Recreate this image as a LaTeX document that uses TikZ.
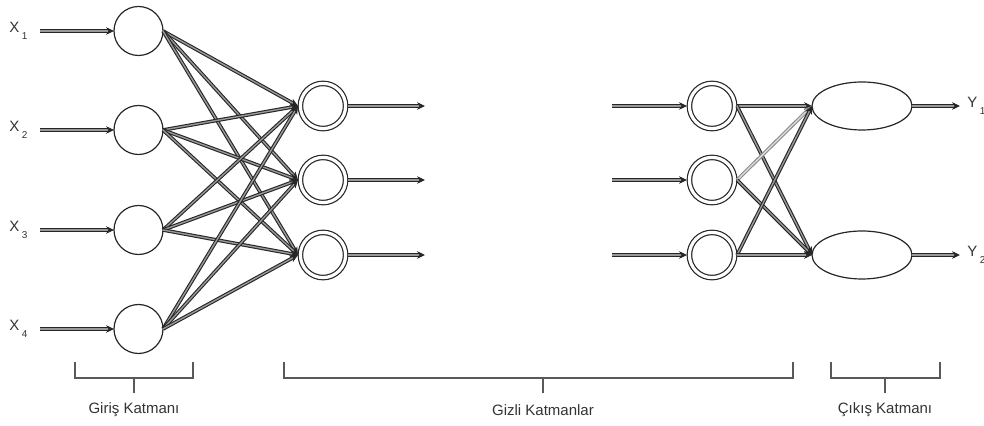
\documentclass[tikz,border=0pt]{standalone}
\usepackage{fontspec}
\setmainfont{Liberation Sans}
\usetikzlibrary{arrows.meta,shapes.geometric}
\begin{document}
\begin{tikzpicture}[x=0.5pt,y=-0.5pt,
  inp/.style={circle,draw=black!85,line width=0.6pt,minimum size=24.5pt,inner sep=0pt,outer sep=0pt},
  hid/.style={circle,draw=black!85,line width=0.6pt,double=white,double distance=1.6pt,minimum size=22.6pt,inner sep=0pt,outer sep=1.2pt},
  outn/.style={ellipse,draw=black!85,line width=0.6pt,minimum width=50pt,minimum height=24pt,inner sep=0pt,outer sep=0pt},
  conn/.style={draw=black!85,line width=0.55pt,double=black!40,double distance=0.7pt,-{Stealth[length=4pt,width=3.8pt]}},
  lconn/.style={conn,draw=black!45,double=black!15},
  lab/.style={text=black!80,font=\fontsize{7.5}{9}\selectfont,inner sep=0pt},
  brk/.style={draw=black!65,line width=0.75pt}
]
\path[use as bounding box] (0,0) rectangle (984,426);
% input layer
\foreach \i/\y in {1/31,2/130,3/230,4/329}{
  \node[inp] (i\i) at (138.5,\y) {};
  \coordinate (xs\i) at (40,\y);
  \node[lab,anchor=west] (xl\i) at (9,\y) {X\raisebox{-3.2pt}{\hspace{1.2pt}\fontsize{5}{5}\selectfont\i}};
  \draw[conn] (xs\i) -- (i\i.west);
}
% hidden layer 1
\foreach \j/\y in {1/106,2/180,3/255}{
  \node[hid] (a\j) at (323,\y) {};
  \coordinate (ae\j) at (425,\y);
  \draw[conn] (a\j.east) -- (ae\j);
}
\foreach \i in {1,...,4}{
  \foreach \j in {1,2,3}{
    \draw[conn] (i\i.east) -- (a\j.west);
  }
}
% hidden layer 2
\foreach \j/\y in {1/106,2/180,3/255}{
  \node[hid] (b\j) at (712,\y) {};
  \coordinate (bs\j) at (612,\y);
  \draw[conn] (bs\j) -- (b\j.west);
}
% output layer
\node[outn] (o1) at (862,106) {};
\node[outn] (o2) at (862,255) {};
\coordinate (oe1) at (960,106);
\coordinate (oe2) at (960,255);
\draw[conn] (o1.east) -- (oe1);
\draw[conn] (o2.east) -- (oe2);
\node[lab,anchor=west] (yl1) at (967,106) {Y\raisebox{-3.2pt}{\hspace{1.2pt}\fontsize{5}{5}\selectfont 1}};
\node[lab,anchor=west] (yl2) at (967,255) {Y\raisebox{-3.2pt}{\hspace{1.2pt}\fontsize{5}{5}\selectfont 2}};
\draw[conn] (b1.east) -- (o1.west);
\draw[conn] (b1.east) -- (o2.west);
\draw[lconn] (b2.east) -- (o1.west);
\draw[conn] (b2.east) -- (o2.west);
\draw[conn] (b3.east) -- (o1.west);
\draw[conn] (b3.east) -- (o2.west);
% brackets
\draw[brk] (75,362) -- (75,378) -- (193,378) -- (193,362);
\draw[brk] (134,378) -- (134,393);
\node[lab] (l1) at (134,410) {Giriş Katmanı};
\draw[brk] (284,362) -- (284,378) -- (793,378) -- (793,362);
\draw[brk] (543,378) -- (543,393);
\node[lab] (l2) at (543,410) {Gizli Katmanlar};
\draw[brk] (831,362) -- (831,378) -- (940,378) -- (940,362);
\draw[brk] (885,378) -- (885,393);
\node[lab] (l3) at (885,410) {Çıkış Katmanı};
\end{tikzpicture}
\end{document}
